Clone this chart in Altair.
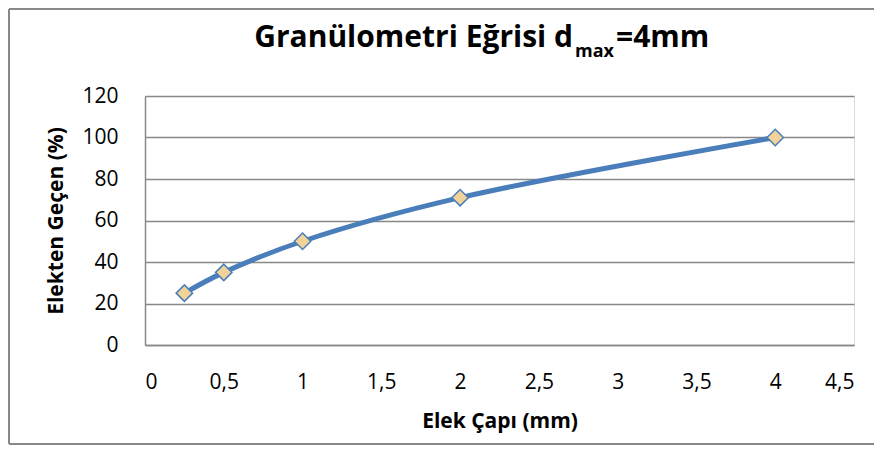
import altair as alt
import pandas as pd

sieve_mm = [0.25, 0.5, 1, 2, 4]
passing_pct = [25, 35, 50, 71, 100]
x_ticks = [0, 0.5, 1, 1.5, 2, 2.5, 3, 3.5, 4, 4.5]
y_ticks = [0, 20, 40, 60, 80, 100, 120]

title_main = "Granülometri Eğrisi d"
title_sub = "max"
title_end = "=4mm"

df = pd.DataFrame({"x": sieve_mm, "y": passing_pct})

W, H = 709, 249
FONT = "Open Sans"
GRAY = "#888888"
BLUE = "#4a7ebb"

xs = alt.Scale(domain=[0, 4.5], nice=False)
ys = alt.Scale(domain=[0, 120], nice=False)

xaxis = alt.Axis(values=x_ticks, title="Elek Çapı (mm)", grid=False, ticks=False,
                 labelExpr="replace(format(datum.value, '~g'), '.', ',')",
                 labelFont=FONT, labelFontSize=21, labelColor="#000000", labelPadding=26,
                 titleFont=FONT, titleFontSize=21, titleFontWeight="bold", titleColor="#000000",
                 titlePadding=18, domainColor=GRAY, domainWidth=1.5)
yaxis = alt.Axis(values=y_ticks, title="Elekten Geçen (%)", grid=True, gridColor=GRAY, gridWidth=1.5,
                 ticks=False, labelFont=FONT, labelFontSize=21, labelColor="#000000", labelPadding=27,
                 titleFont=FONT, titleFontSize=21, titleFontWeight="bold", titleColor="#000000",
                 titlePadding=15, domainColor=GRAY, domainWidth=1.5)

base = alt.Chart(df)
line = base.mark_line(color=BLUE, strokeWidth=5, interpolate="catmull-rom").encode(
    x=alt.X("x:Q", scale=xs, axis=xaxis),
    y=alt.Y("y:Q", scale=ys, axis=yaxis),
)
pts = base.mark_point(shape="diamond", filled=True, fill="#F1D39A", stroke=BLUE,
                      strokeWidth=1.5, size=270, opacity=1).encode(
    x=alt.X("x:Q", scale=xs), y=alt.Y("y:Q", scale=ys))

tdf = pd.DataFrame({"a": [0]})
t1 = alt.Chart(tdf).mark_text(text=title_main, font=FONT, fontSize=30, fontWeight="bold",
                              align="right", baseline="alphabetic", color="#000000").encode(
    x=alt.value(428), y=alt.value(-49))
t2 = alt.Chart(tdf).mark_text(text=title_sub, font=FONT, fontSize=18, fontWeight="bold",
                              align="left", baseline="alphabetic", color="#000000").encode(
    x=alt.value(430), y=alt.value(-39))
t3 = alt.Chart(tdf).mark_text(text=title_end, font=FONT, fontSize=30, fontWeight="bold",
                              align="left", baseline="alphabetic", color="#000000").encode(
    x=alt.value(471), y=alt.value(-49))

frame_top = alt.Chart(tdf).mark_rule(color=GRAY, strokeWidth=2).encode(
    x=alt.value(-136), x2=alt.value(W + 20), y=alt.value(-87))
frame_left = alt.Chart(tdf).mark_rule(color=GRAY, strokeWidth=2).encode(
    x=alt.value(-136), y=alt.value(-87), y2=alt.value(H + 99))
frame_bottom = alt.Chart(tdf).mark_rule(color=GRAY, strokeWidth=2).encode(
    x=alt.value(-136), x2=alt.value(W + 20), y=alt.value(H + 99))

chart = alt.layer(line, pts, t1, t2, t3, frame_top, frame_left, frame_bottom).properties(
    width=W, height=H,
    padding={"left": 137, "top": 88, "right": 20, "bottom": 100},
    autosize=alt.AutoSizeParams(type="none"),
).configure_view(stroke=None).configure(background="#ffffff")

chart.save("out.html", embed_options={"renderer": "svg", "actions": False})
